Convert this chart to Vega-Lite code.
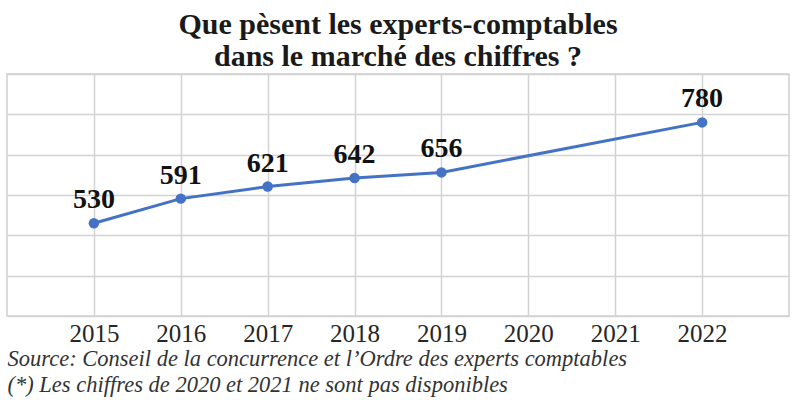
{
  "$schema": "https://vega.github.io/schema/vega-lite/v6.json",
  "width": 782,
  "height": 242,
  "autosize": {"type": "none"},
  "padding": {"left": 7, "top": 74, "right": 11, "bottom": 84},
  "background": "white",
  "title": {
    "text": ["Que pèsent les experts-comptables", "dans le marché des chiffres ?"],
    "font": "Liberation Serif",
    "fontSize": 30,
    "fontWeight": "bold",
    "color": "#1a1a1a",
    "anchor": "middle",
    "frame": "group",
    "lineHeight": 32,
    "baseline": "alphabetic",
    "offset": -22
  },
  "config": {
    "view": {"stroke": "#d0d0d0", "strokeWidth": 1.5}
  },
  "data": {
    "values": [
      {"year": "2015", "value": 530},
      {"year": "2016", "value": 591},
      {"year": "2017", "value": 621},
      {"year": "2018", "value": 642},
      {"year": "2019", "value": 656},
      {"year": "2022", "value": 780}
    ]
  },
  "encoding": {
    "x": {
      "field": "year",
      "type": "ordinal",
      "scale": {"type": "point", "padding": 1, "domain": ["2015", "2016", "2017", "2018", "2019", "2020", "2021", "2022"]},
      "axis": {
        "grid": true,
        "gridColor": "#d3d3d3",
        "gridWidth": 1.5,
        "domain": false,
        "ticks": false,
        "labelAngle": 0,
        "labelFont": "Liberation Serif",
        "labelFontSize": 25,
        "labelColor": "#262626",
        "labelPadding": 5,
        "title": ["Source: Conseil de la concurrence et l’Ordre des experts comptables", "(*) Les chiffres de 2020 et 2021 ne sont pas disponibles"],
        "titleFont": "Liberation Serif",
        "titleFontStyle": "italic",
        "titleFontWeight": "normal",
        "titleFontSize": 22.5,
        "titleColor": "#333333",
        "titleAnchor": "start",
        "titleAlign": "left",
        "titleLineHeight": 26,
        "titlePadding": 1
      }
    },
    "y": {
      "field": "value",
      "type": "quantitative",
      "scale": {"domain": [300, 900], "nice": false, "zero": false},
      "axis": {
        "values": [300, 400, 500, 600, 700, 800, 900],
        "grid": true,
        "gridColor": "#d3d3d3",
        "gridWidth": 1.5,
        "labels": false,
        "ticks": false,
        "domain": false,
        "title": null
      }
    }
  },
  "layer": [
    {"mark": {"type": "line", "color": "#4472C4", "strokeWidth": 3}},
    {"mark": {"type": "point", "filled": true, "size": 110, "color": "#4472C4", "opacity": 1}},
    {
      "mark": {"type": "text", "baseline": "alphabetic", "dy": -15, "font": "Liberation Serif", "fontWeight": "bold", "fontSize": 28, "color": "#111111"},
      "encoding": {"text": {"field": "value", "type": "quantitative"}}
    }
  ]
}
